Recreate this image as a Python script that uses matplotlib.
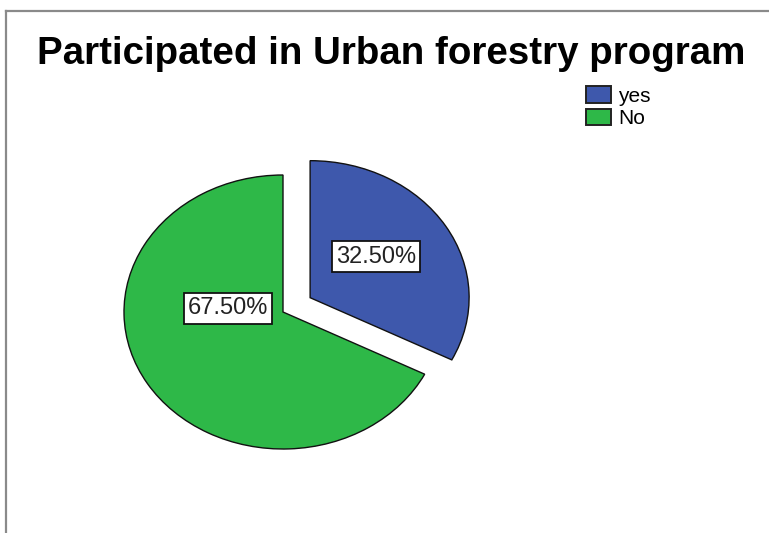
import math
import matplotlib
matplotlib.use("Agg")
import matplotlib.pyplot as plt
from matplotlib.patches import Patch
from matplotlib.lines import Line2D

categories = ["yes", "No"]
values = [32.5, 67.5]
colors = ["#3E58AC", "#2EB848"]
title = "Participated in Urban forestry program"

W, H = 769, 533
DPI = 100
fig = plt.figure(figsize=(W / DPI, H / DPI), dpi=DPI)
plt.rcParams["font.family"] = ["Liberation Sans", "DejaVu Sans"]

# frame lines (top and left)
fig.add_artist(Line2D([6 / W, 1], [1 - 11 / H, 1 - 11 / H], transform=fig.transFigure,
                      color="#8a8a8a", lw=1.6))
fig.add_artist(Line2D([6 / W, 6 / W], [0, 1 - 11 / H], transform=fig.transFigure,
                      color="#8a8a8a", lw=1.6))

# pie axes: ellipse rx=159px, ry=137px centred at (283, 312)
cx, cy, rx, ry = 283, 312, 159, 137
L = 1.4
aw, ah = 2 * L * rx, 2 * L * ry
ax = fig.add_axes([(cx - aw / 2) / W, 1 - (cy + ah / 2) / H, aw / W, ah / H])
explode = [0.2, 0.0]
wedges, texts, autotexts = ax.pie(
    values, colors=colors, startangle=90, counterclock=False,
    explode=explode, autopct=lambda p: f"{p:.2f}%", pctdistance=0.5,
    wedgeprops=dict(edgecolor="#111111", linewidth=1.0),
    textprops=dict(fontsize=17, color="#222222"))
ax.set_aspect("auto")
ax.set_xlim(-L, L)
ax.set_ylim(-L, L)
ax.axis("off")

for t in autotexts:
    t.set_bbox(dict(facecolor="white", edgecolor="#111111", linewidth=1.3,
                    boxstyle="square,pad=0.18"))
# label placement as in the SPSS output
mid = math.radians(90 - values[0] / 100 * 180)
ex = explode[0] * math.cos(mid)
ey = explode[0] * math.sin(mid)
autotexts[0].set_position((ex + 0.415, ey + 0.30))
autotexts[1].set_position((-0.346, 0.026))

# title, fitted to width
tt = fig.text(391 / W, 1 - 54 / H, title, ha="center", va="center",
              fontsize=20, fontweight="bold", color="black")
fig.canvas.draw()
r = fig.canvas.get_renderer()
w = tt.get_window_extent(r).width
tt.set_fontsize(20 * 708 / w)

handles = [Patch(facecolor=c, edgecolor="#222222", linewidth=1.4) for c in colors]
fig.legend(handles, categories, loc="upper left",
           bbox_to_anchor=(586 / W, 1 - 86 / H), frameon=False, fontsize=15,
           handlelength=1.2, handleheight=0.85, handletextpad=0.35,
           labelspacing=0.15, borderaxespad=0, borderpad=0)

fig.savefig("out.png", dpi=DPI)
